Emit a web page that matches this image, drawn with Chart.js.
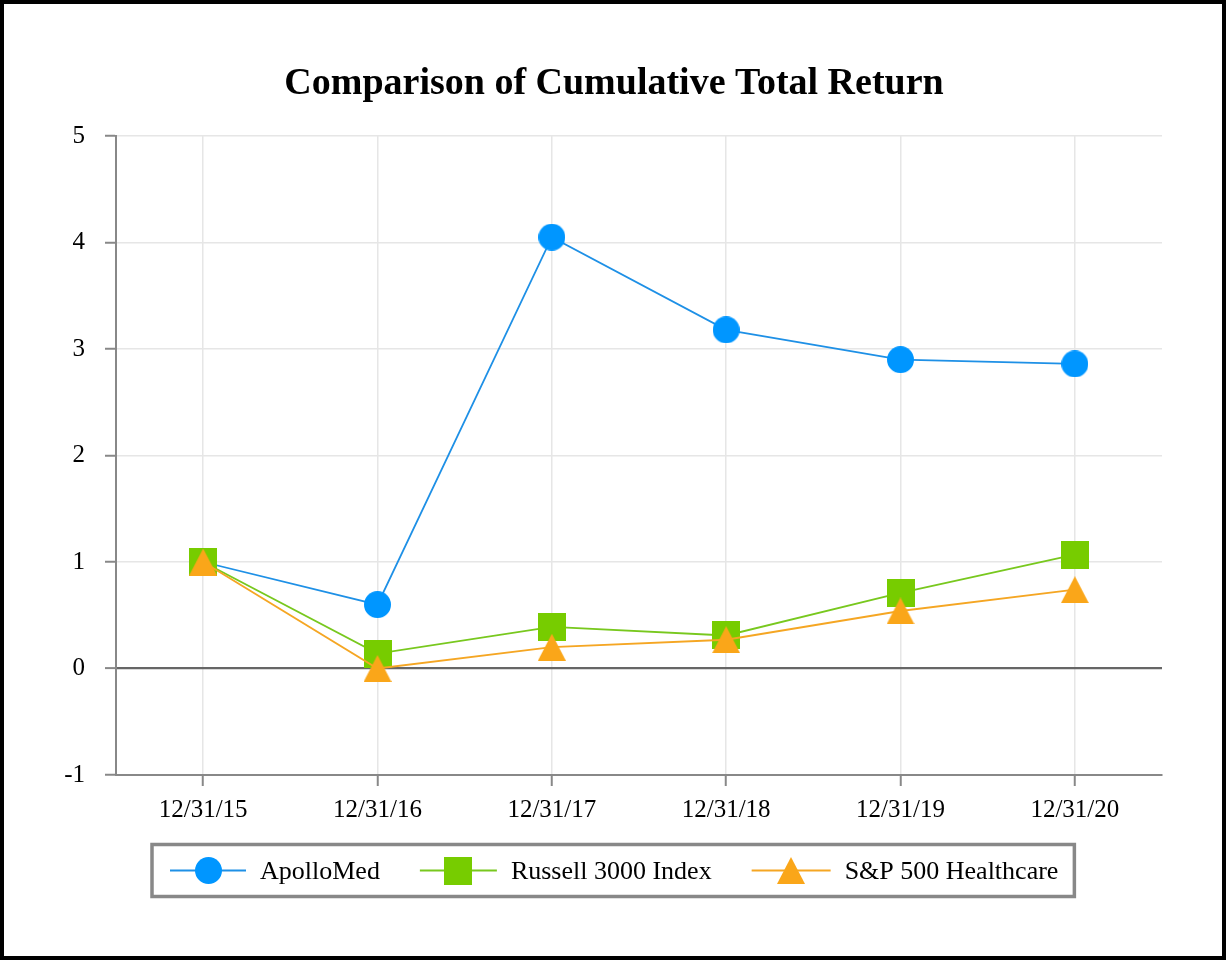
<!DOCTYPE html>
<html>
<head>
<meta charset="utf-8">
<script src="https://cdn.jsdelivr.net/npm/chart.js@4.4.1/dist/chart.umd.min.js"></script>
<style>
  html, body { margin: 0; padding: 0; background: #fff; }
  #wrap { position: relative; width: 1226px; height: 960px; }
  canvas { display: block; }
</style>
</head>
<body>
<div id="wrap"><canvas id="c" width="1226" height="960"></canvas></div>
<script>
// ---- data ----
const categories = ['12/31/15', '12/31/16', '12/31/17', '12/31/18', '12/31/19', '12/31/20'];
const seriesNames = ['ApolloMed', 'Russell 3000 Index', 'S&P 500 Healthcare'];
const apolloMed = [1.00, 0.60, 4.05, 3.18, 2.90, 2.86];
const russell3000 = [1.00, 0.14, 0.39, 0.31, 0.71, 1.07];
const sp500Healthcare = [1.00, 0.00, 0.20, 0.27, 0.54, 0.74];
const yTicks = [-1, 0, 1, 2, 3, 4, 5];
const titleText = 'Comparison of Cumulative Total Return';

// ---- styles ----
const colors = ['#0096FF', '#77CC00', '#FAA619'];
const lineColors = ['#1E90E6', '#78C81E', '#F5A623'];
const serif = "'Liberation Serif', 'Times New Roman', serif";

function makeMarker(kind, color) {
  const cv = document.createElement('canvas');
  const ctx = cv.getContext('2d');
  if (kind === 'circle') {
    cv.width = 27; cv.height = 27;
    ctx.fillStyle = color;
    ctx.beginPath(); ctx.arc(13.5, 13.5, 13.5, 0, Math.PI * 2); ctx.fill();
  } else if (kind === 'square') {
    cv.width = 28; cv.height = 28;
    ctx.fillStyle = color;
    ctx.fillRect(0, 0, 28, 28);
  } else {
    cv.width = 28; cv.height = 27;
    ctx.fillStyle = color;
    ctx.beginPath(); ctx.moveTo(14, 0); ctx.lineTo(28, 27); ctx.lineTo(0, 27); ctx.closePath(); ctx.fill();
  }
  return cv;
}
const markers = [makeMarker('circle', colors[0]), makeMarker('square', colors[1]), makeMarker('triangle', colors[2])];
const seriesData = [apolloMed, russell3000, sp500Healthcare];

const frameTitleLegend = {
  id: 'frameTitleLegend',
  beforeDraw(chart) {
    const ctx = chart.ctx;
    ctx.save();
    ctx.fillStyle = '#fff';
    ctx.fillRect(0, 0, chart.width, chart.height);
    ctx.restore();
  },
  afterDraw(chart) {
    const ctx = chart.ctx;
    ctx.save();
    // outer frame
    ctx.strokeStyle = '#000';
    ctx.lineWidth = 4;
    ctx.strokeRect(2, 2, chart.width - 4, chart.height - 4);
    // title
    ctx.fillStyle = '#000';
    ctx.font = 'bold 38px ' + serif;
    ctx.textAlign = 'center';
    ctx.textBaseline = 'alphabetic';
    ctx.fillText(titleText, chart.width / 2 + 1, 94);
    // legend
    ctx.font = '26px ' + serif;
    const lineLen = [76, 77, 79];
    const gapText = 14, gapItem = 40, padL = 18, padR = 16;
    const widths = seriesNames.map(n => ctx.measureText(n).width);
    let total = padL + padR;
    for (let i = 0; i < 3; i++) total += lineLen[i] + gapText + widths[i] + (i < 2 ? gapItem : 0);
    const boxTop = 844.5, boxH = 52;
    const boxLeft = Math.round(chart.width / 2 - total / 2);
    ctx.strokeStyle = '#888';
    ctx.lineWidth = 3.5;
    ctx.strokeRect(boxLeft, boxTop, total, boxH);
    const cy = boxTop + boxH / 2;
    let x = boxLeft + padL;
    for (let i = 0; i < 3; i++) {
      ctx.strokeStyle = lineColors[i];
      ctx.lineWidth = 2;
      ctx.beginPath(); ctx.moveTo(x, cy); ctx.lineTo(x + lineLen[i], cy); ctx.stroke();
      const m = markers[i];
      ctx.drawImage(m, Math.round(x + lineLen[i] / 2 - m.width / 2), Math.round(cy - m.height / 2));
      x += lineLen[i] + gapText;
      ctx.fillStyle = '#000';
      ctx.textBaseline = 'middle';
      ctx.textAlign = 'left';
      ctx.fillText(seriesNames[i], x, cy + 2);
      x += widths[i] + gapItem;
    }
    ctx.restore();
  }
};

new Chart(document.getElementById('c'), {
  type: 'line',
  data: {
    labels: categories,
    datasets: seriesData.map((d, i) => ({
      label: seriesNames[i],
      data: d,
      borderColor: lineColors[i],
      backgroundColor: colors[i],
      borderWidth: 1.8,
      pointStyle: markers[i],
      pointRadius: 14,
      pointHoverRadius: 14,
      tension: 0,
      fill: false,
      order: 3 - i,
      clip: false
    }))
  },
  options: {
    responsive: false,
    animation: false,
    devicePixelRatio: 1,
    layout: { padding: { left: 0, right: 64, top: 136, bottom: 125 } },
    plugins: {
      legend: { display: false },
      tooltip: { enabled: false },
      title: { display: false }
    },
    scales: {
      x: {
        offset: true,
        grid: {
          offset: false,
          color: '#e6e6e6',
          lineWidth: 1.5,
          drawTicks: true,
          tickLength: 11,
          tickColor: '#888',
          tickWidth: 2
        },
        border: { display: true, color: '#888', width: 2 },
        ticks: { color: '#000', font: { family: serif, size: 25 }, padding: 9, maxRotation: 0, autoSkip: false },
        afterFit(s) { s.height = 60; }
      },
      y: {
        min: yTicks[0],
        max: yTicks[yTicks.length - 1],
        afterBuildTicks(s) { s.ticks = yTicks.map(v => ({ value: v })); },
        grid: {
          color: c => (c.tick && c.tick.value === 0 ? '#666' : '#e6e6e6'),
          lineWidth: c => (c.tick && c.tick.value === 0 ? 2.2 : 1.5),
          drawTicks: true,
          tickLength: 11,
          tickColor: '#888',
          tickWidth: 2
        },
        border: { display: true, color: '#888', width: 2 },
        ticks: { color: '#000', font: { family: serif, size: 25 }, padding: 20 },
        afterFit(s) { s.width = 116; }
      }
    }
  },
  plugins: [frameTitleLegend]
});
</script>
</body>
</html>
